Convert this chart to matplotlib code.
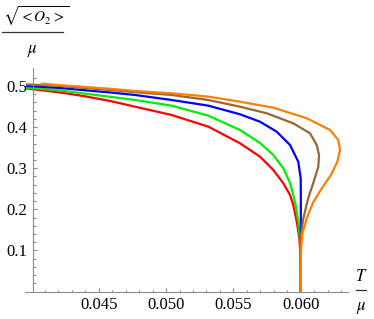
import matplotlib
matplotlib.use("Agg")
import matplotlib.pyplot as plt
from matplotlib.ticker import FixedLocator
from matplotlib.lines import Line2D

plt.rcParams['font.family'] = ['Liberation Serif', 'DejaVu Serif']
plt.rcParams['mathtext.fontset'] = 'stix'

# ---- data (T/mu , sqrt(<O2>)/mu) ----
red_T = [0.03969, 0.04214, 0.04399, 0.04585, 0.04770, 0.05042, 0.05314, 0.05549,
         0.05697, 0.05796, 0.05870, 0.05920, 0.05944, 0.05970, 0.05989, 0.05998, 0.06000]
red_O = [0.4939, 0.4842, 0.4749, 0.4635, 0.4496, 0.4294, 0.4010, 0.3606,
         0.3280, 0.2956, 0.2633, 0.2348, 0.2105, 0.1698, 0.1294, 0.0888, 0.0]

green_T = [0.03969, 0.04214, 0.04399, 0.04585, 0.04770, 0.05042, 0.05314, 0.05549,
           0.05697, 0.05796, 0.05870, 0.05920, 0.05940, 0.05961, 0.05981, 0.05994, 0.05999, 0.06000]
green_O = [0.4959, 0.4891, 0.4813, 0.4737, 0.4659, 0.4521, 0.4277, 0.3929,
           0.3613, 0.3321, 0.2998, 0.2640, 0.2397, 0.2105, 0.1698, 0.1294, 0.0766, 0.0]

blue_T = [0.03969, 0.04214, 0.04399, 0.04585, 0.04770, 0.05042, 0.05314, 0.05549,
          0.05697, 0.05821, 0.05920, 0.05981, 0.05999, 0.06000, 0.06000, 0.06000]
blue_O = [0.5000, 0.4951, 0.4895, 0.4842, 0.4781, 0.4659, 0.4521, 0.4311,
          0.4131, 0.3888, 0.3564, 0.3158, 0.2754, 0.2348, 0.1496, 0.0]

brown_T = [0.03969, 0.04214, 0.04399, 0.04585, 0.04770, 0.05042, 0.05314, 0.05549,
           0.05747, 0.05944, 0.06068, 0.06118, 0.06135, 0.06130, 0.06090, 0.06065,
           0.06048, 0.06019, 0.06001, 0.06000]
brown_O = [0.5036, 0.5000, 0.4951, 0.4903, 0.4849, 0.4781, 0.4659, 0.4496,
           0.4336, 0.4092, 0.3849, 0.3564, 0.3321, 0.3036, 0.2616, 0.2372,
           0.2185, 0.1781, 0.1375, 0.0]

orange_T = [0.04078, 0.04214, 0.04399, 0.04585, 0.04770, 0.05042, 0.05314, 0.05549,
            0.05796, 0.06044, 0.06217, 0.06278, 0.06291, 0.06271, 0.06224, 0.06157,
            0.06093, 0.06044, 0.06011, 0.06000, 0.06000]
orange_O = [0.5056, 0.5019, 0.4976, 0.4932, 0.4878, 0.4822, 0.4740, 0.4618,
            0.4472, 0.4214, 0.3929, 0.3686, 0.3443, 0.3158, 0.2835, 0.2518,
            0.2178, 0.1781, 0.1399, 0.0968, 0.0]

x_major = [0.045, 0.050, 0.055, 0.060]
x_labels = ['0.045', '0.050', '0.055', '0.060']
y_major = [0.1, 0.2, 0.3, 0.4, 0.5]
y_labels = ['0.1', '0.2', '0.3', '0.4', '0.5']

series = [
    (red_T, red_O, '#ff0000'),
    (green_T, green_O, '#00ee00'),
    (blue_T, blue_O, '#0000ff'),
    (brown_T, brown_O, '#996633'),
    (orange_T, orange_O, '#ff8000'),
]

W, H = 374, 319
fig = plt.figure(figsize=(W / 100, H / 100), dpi=100)
x0, x1 = 24.5, 348.0
ytop, ybot = 68.3, 291.5
ax = fig.add_axes([x0 / W, (H - ybot) / H, (x1 - x0) / W, (ybot - ytop) / H])
ax.set_xlim(0.0395, 0.0635)
ax.set_ylim(0.0, 0.543)

for T, O, c in series:
    ax.plot(T, O, color=c, lw=1.6, solid_joinstyle='round', clip_on=False)

axis_col = '#8c8c8c'
for s in ['top', 'right']:
    ax.spines[s].set_visible(False)
ax.spines['left'].set_position(('data', 0.0401))
ax.spines['bottom'].set_position(('data', 0.0))
for s in ['left', 'bottom']:
    ax.spines[s].set_color(axis_col)
    ax.spines[s].set_linewidth(0.8)

ax.xaxis.set_major_locator(FixedLocator(x_major))
ax.set_xticklabels(x_labels)
ax.yaxis.set_major_locator(FixedLocator(y_major))
ax.set_yticklabels(y_labels)
ax.xaxis.set_minor_locator(FixedLocator([0.041, 0.042, 0.043, 0.044, 0.046, 0.047, 0.048, 0.049,
                                         0.051, 0.052, 0.053, 0.054, 0.056, 0.057, 0.058, 0.059,
                                         0.061, 0.062, 0.063]))
ax.yaxis.set_minor_locator(FixedLocator([0.02, 0.04, 0.06, 0.08, 0.12, 0.14, 0.16, 0.18,
                                         0.22, 0.24, 0.26, 0.28, 0.32, 0.34, 0.36, 0.38,
                                         0.42, 0.44, 0.46, 0.48, 0.52]))
ax.tick_params(which='both', direction='in', color=axis_col, width=0.8, labelsize=12,
               labelcolor='black')
ax.tick_params(which='major', length=3.2, pad=4)
ax.tick_params(which='minor', length=1.8)
ax.patch.set_alpha(0)

# y-axis label (fraction)
fig.text(3 / W, 1 - 4 / H, r'$\sqrt{<O_2>}$', ha='left', va='top', fontsize=11)
fig.add_artist(Line2D([2 / W, 63 / W], [1 - 31.7 / H, 1 - 31.7 / H], color='#333333', lw=0.9))
fig.text(32 / W, 1 - 51 / H, r'$\mu$', ha='center', va='center', fontsize=12)

# x-axis label (fraction)
fig.text(361 / W, 1 - 277 / H, r'$T$', ha='center', va='center', fontsize=12)
fig.add_artist(Line2D([356 / W, 366 / W], [1 - 290 / H, 1 - 290 / H], color='#333333', lw=0.9))
fig.text(361 / W, 1 - 308 / H, r'$\mu$', ha='center', va='center', fontsize=12)

fig.savefig('out.png', dpi=100)
